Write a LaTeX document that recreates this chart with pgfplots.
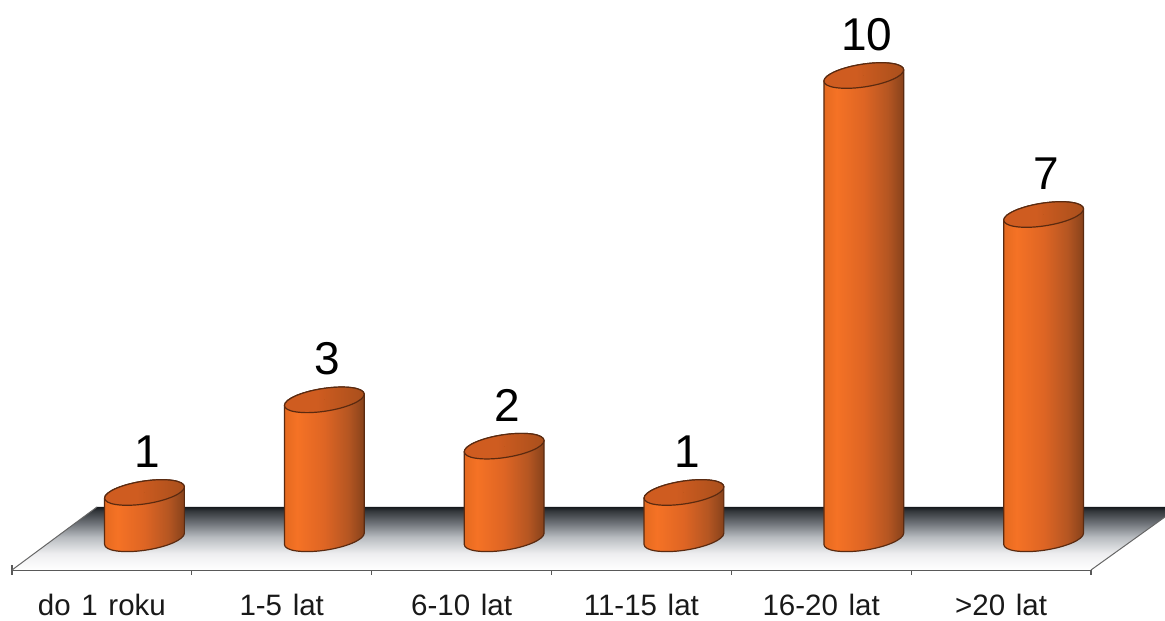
\documentclass[border=0pt]{standalone}
\usepackage{fontspec}
\setmainfont{Liberation Sans}
\newfontfamily\ticklabelfont[WordSpace=1.3]{Liberation Sans}
\usepackage{pgfplots}
\pgfplotsset{compat=1.18}

% Shadings: floor fading upward to black, cylinder body and cap
\definecolor{flra}{HTML}{EEEEF0}
\definecolor{flrb}{HTML}{B8BCC0}
\definecolor{flrc}{HTML}{70747A}
\definecolor{flrd}{HTML}{33373B}
\definecolor{flre}{HTML}{15191D}
\pgfdeclareverticalshading{floorfade}{100bp}{
  color(0bp)=(white);
  color(25bp)=(white);
  color(38bp)=(flra);
  color(51bp)=(flrb);
  color(62bp)=(flrc);
  color(72bp)=(flrd);
  color(75bp)=(flre);
  color(100bp)=(flre)}
\definecolor{cyla}{HTML}{E56A20}
\definecolor{cylb}{HTML}{F57225}
\definecolor{cylc}{HTML}{DE6524}
\definecolor{cyld}{HTML}{B55622}
\definecolor{cyle}{HTML}{87421B}
\pgfdeclarehorizontalshading{cylbody}{100bp}{
  color(0bp)=(cyla);
  color(25bp)=(cyla);
  color(33bp)=(cylb);
  color(50bp)=(cylc);
  color(65bp)=(cyld);
  color(75bp)=(cyle);
  color(100bp)=(cyle)}
\definecolor{capa}{HTML}{CF5C20}
\definecolor{capb}{HTML}{A94F1C}
\pgfdeclarehorizontalshading{cylcap}{100bp}{
  color(0bp)=(capa);
  color(45bp)=(capa);
  color(75bp)=(capb);
  color(100bp)=(capb)}
\definecolor{cyledge}{HTML}{5A2A10}

\pgfplotstableread{
pos count
0   1
1   3
2   2
3   1
4   10
5   7
}\durations

\begin{document}
\begin{tikzpicture}[x=1pt,y=1pt]
\path[use as bounding box] (0,0) rectangle (1165,621);
\begin{axis}[
  at={(12pt,51pt)}, anchor=south west,
  scale only axis, width=1079pt, height=570pt,
  xmin=-0.7368, xmax=5.2632, ymin=-0.673, ymax=11.63,
  clip=false,
  axis x line=bottom, axis y line=none,
  axis line style={-, draw=black!65, line width=1.1pt},
  x tick label as interval,
  xtick={-0.7368,0.2632,1.2632,2.2632,3.2632,4.2632,5.2632},
  xticklabels={do 1 roku,1-5 lat,6-10 lat,11-15 lat,16-20 lat,>20 lat},
  major tick length=10pt,
  x tick style={draw=black!65, line width=1.1pt},
  xticklabel style={font=\fontsize{29.5}{32}\ticklabelfont, text=black!90, anchor=base, yshift=-40.5pt},
  /pgf/number format/assume math mode=true,
]
% floor of the chart
\addplot[draw=none, shading=floorfade, shading angle=0, forget plot] coordinates {
  (-0.7368,-0.673) (-0.2641,0.687) (5.6748,0.687) (5.6748,0.472) (5.2633,-0.673)} -- cycle;
\addplot[draw=black!60, line width=1pt, forget plot] coordinates {(-0.7368,-0.673) (-0.2641,0.687)};
\addplot[draw=black!60, line width=1pt, forget plot] coordinates {(5.2633,-0.673) (5.6748,0.472)};
% one cylinder per class, its height taken from the count
\addplot[
  scatter, only marks, mark=*, mark size=0pt, draw=none, fill=none,
  visualization depends on={y \as \cnt},
  scatter/@pre marker code/.code={
    \pgfmathsetmacro{\H}{\cnt*46.33}
    \begin{scope}[x=1pt,y=1pt]
    \path[draw=cyledge, line width=1.2pt, line join=round, shading=cylbody, shading angle=0]
      (-39.9,-5.6) -- (-39.9,-5.6-\H)
      .. controls (-39.9,-11.95-\H) and (-22.04,-14.59-\H) .. (0,-11.5-\H)
      .. controls (22.04,-8.41-\H) and (39.9,-0.75-\H) .. (39.9,5.6-\H)
      -- (39.9,5.6)
      .. controls (39.9,11.95) and (22.04,14.59) .. (0,11.5)
      .. controls (-22.04,8.41) and (-39.9,0.75) .. (-39.9,-5.6) -- cycle;
    \path[draw=cyledge, line width=1.2pt, shading=cylcap, shading angle=0]
      (-39.9,-5.6)
      .. controls (-39.9,0.75) and (-22.04,8.41) .. (0,11.5)
      .. controls (22.04,14.59) and (39.9,11.95) .. (39.9,5.6)
      .. controls (39.9,-0.75) and (22.04,-8.41) .. (0,-11.5)
      .. controls (-22.04,-14.59) and (-39.9,-11.95) .. (-39.9,-5.6) -- cycle;
    \end{scope}
  },
  scatter/@post marker code/.code={},
  forget plot,
] table[x=pos, y=count] {\durations};
% counts above the cylinders
\addplot[
  only marks, mark=*, mark size=0pt, draw=none, fill=none,
  nodes near coords={\fontsize{46}{50}\selectfont\pgfmathprintnumber{\pgfplotspointmeta}},
  every node near coord/.append style={
    text=black, anchor=base, inner sep=0pt, xshift=3pt, yshift=25pt},
  forget plot,
] table[x=pos, y=count] {\durations};
\end{axis}
\end{tikzpicture}
\end{document}
